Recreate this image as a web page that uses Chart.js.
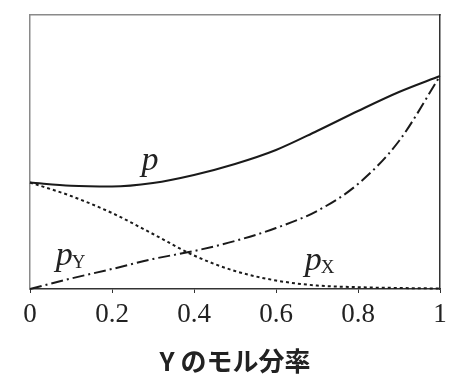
<!DOCTYPE html>
<html>
<head>
<meta charset="utf-8">
<script src="https://cdn.jsdelivr.net/npm/chart.js@4/dist/chart.umd.min.js"></script>
<style>
  html, body { margin: 0; padding: 0; background: #fff; }
  #wrap { width: 473px; height: 388px; }
</style>
</head>
<body>
<div id="wrap"><canvas id="chart"></canvas></div>
<script>
// Y のモル分率
const molFraction = [0, 0.1, 0.2, 0.3, 0.4, 0.5, 0.6, 0.7, 0.8, 0.9, 1]
// 全圧 p
const pTotal = [106.5, 103.2, 102.5, 106, 114, 125, 139, 158, 178, 197, 213]
// 分圧 pX
const pX = [106.5, 93, 76, 55, 33.5, 18, 8.5, 3.5, 1.8, 1, 0.5]
// 分圧 pY
const pY = [0, 10.5, 20, 30, 38, 48, 61, 78, 105, 148, 213]
const xTicks = [0, 0.2, 0.4, 0.6, 0.8, 1]
const xTitle = "Y のモル分率"

// 曲線の名前 (データ座標で位置を指定)
const curveLabels = [
    { text: "p", sub: "", x: 0.272, y: 119 },
    { text: "p", sub: "Y", x: 0.063, y: 24 },
    { text: "p", sub: "X", x: 0.67, y: 19 }
]

const serif = "'Liberation Serif', 'DejaVu Serif', serif"

function toPoints(ys) {
    return molFraction.map((x, i) => ({ x: x, y: ys[i] }))
}

const labelPlugin = {
    id: "curveLabels",
    afterDatasetsDraw(chart) {
        const ctx = chart.ctx
        const xs = chart.scales.x
        const ys = chart.scales.y
        ctx.save()
        ctx.fillStyle = "#222"
        ctx.textBaseline = "alphabetic"
        ctx.textAlign = "left"
        curveLabels.forEach((lab) => {
            const px = xs.getPixelForValue(lab.x)
            const py = ys.getPixelForValue(lab.y)
            ctx.font = "italic 34px " + serif
            ctx.fillText(lab.text, px, py)
            if (lab.sub) {
                const w = ctx.measureText(lab.text).width
                ctx.font = "19px " + serif
                ctx.fillText(lab.sub, px + w - 1, py + 3)
            }
        })
        ctx.restore()
    }
}

const lineBase = {
    pointRadius: 0,
    borderWidth: 2,
    borderColor: "#1a1a1a",
    fill: false,
    cubicInterpolationMode: "monotone",
    clip: false
}

const hiddenGrid = { display: false, drawTicks: false, tickLength: 0 }

new Chart(document.getElementById("chart"), {
    type: "line",
    data: {
        datasets: [
            Object.assign({}, lineBase, { label: "p", data: toPoints(pTotal) }),
            Object.assign({}, lineBase, { label: "pX", data: toPoints(pX), borderDash: [3, 3] }),
            Object.assign({}, lineBase, { label: "pY", data: toPoints(pY), borderDash: [12, 4, 2, 4] })
        ]
    },
    options: {
        responsive: true,
        maintainAspectRatio: false,
        animation: false,
        layout: { padding: { left: 30, right: 33, top: 15, bottom: 0 } },
        plugins: { legend: { display: false }, tooltip: { enabled: false } },
        scales: {
            x: {
                type: "linear",
                min: 0,
                max: 1,
                afterBuildTicks: (scale) => { scale.ticks = xTicks.map((v) => ({ value: v })) },
                afterFit: (scale) => {
                    scale.height = 99
                    scale.paddingLeft = 0
                    scale.paddingRight = 0
                },
                grid: { display: true, drawOnChartArea: false, drawTicks: true, tickLength: 4, color: "#333", lineWidth: 1 },
                border: { display: true, color: "#333", width: 1.5 },
                ticks: {
                    padding: 6,
                    color: "#222",
                    font: { family: serif, size: 27 },
                    maxRotation: 0,
                    callback: (v) => String(v)
                },
                title: {
                    display: true,
                    text: xTitle,
                    color: "#222",
                    font: { family: "'Noto Sans CJK JP'", size: 26, weight: "bold" },
                    padding: { top: 0, bottom: 11 }
                }
            },
            x2: {
                type: "linear",
                position: "top",
                min: 0,
                max: 1,
                grid: hiddenGrid,
                border: { display: true, color: "#8a8a8a", width: 1.5 },
                ticks: { display: false }
            },
            y: {
                min: 0,
                max: 274,
                grid: hiddenGrid,
                border: { display: true, color: "#8a8a8a", width: 1.5 },
                ticks: { display: false }
            },
            y2: {
                position: "right",
                min: 0,
                max: 274,
                grid: hiddenGrid,
                border: { display: true, color: "#333", width: 1.5 },
                ticks: { display: false }
            }
        }
    },
    plugins: [labelPlugin]
})
</script>
</body>
</html>
